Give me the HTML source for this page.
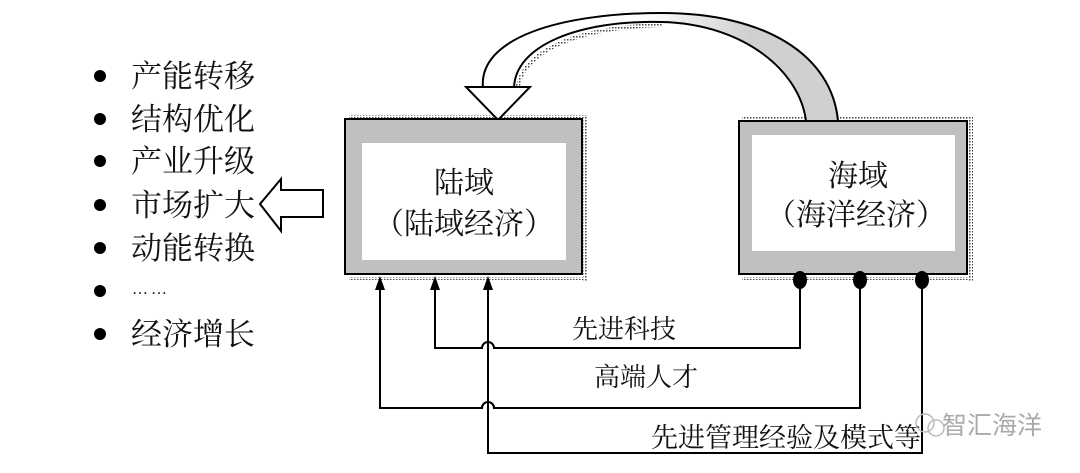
<!DOCTYPE html>
<html><head><meta charset="utf-8"><style>
html,body{margin:0;padding:0;background:#fff;}
svg{display:block;}
text{font-family:"Liberation Serif","Noto Serif CJK SC","Noto Sans CJK SC",serif;fill:#111;}
</style></head><body>
<svg width="1080" height="473" viewBox="0 0 1080 473" xmlns="http://www.w3.org/2000/svg">
<defs>
<pattern id="dots" width="3" height="3" patternUnits="userSpaceOnUse"><rect width="1.5" height="1.5" fill="#444"/></pattern>
<linearGradient id="g" x1="0" x2="1" y1="0" y2="0"><stop offset="0.45" stop-color="#fff"/><stop offset="0.75" stop-color="#d0d0d0"/></linearGradient>
</defs>
<g font-size="31">
<circle cx="100" cy="76" r="6" fill="#000"/><text x="131" y="87">产能转移</text>
<circle cx="100" cy="119" r="6" fill="#000"/><text x="131" y="130">结构优化</text>
<circle cx="100" cy="161" r="6" fill="#000"/><text x="131" y="172">产业升级</text>
<circle cx="100" cy="205" r="6" fill="#000"/><text x="131" y="216">市场扩大</text>
<circle cx="100" cy="248" r="6" fill="#000"/><text x="131" y="259">动能转换</text>
<circle cx="100" cy="291" r="6" fill="#000"/><text x="132" y="294" font-size="16" letter-spacing="3">……</text>
<circle cx="100" cy="334" r="6" fill="#000"/><text x="131" y="345">经济增长</text>
</g>
<polygon points="260,204 281,179 281,190 323,190 323,217 281,217 281,231" fill="#fff" stroke="#000" stroke-width="2"/>
<rect x="349" y="115" width="236" height="3" fill="url(#dots)"/>
<rect x="583" y="115" width="5" height="166" fill="url(#dots)"/>
<rect x="349" y="277" width="238" height="3" fill="url(#dots)"/>
<rect x="742" y="117" width="228" height="3" fill="url(#dots)"/>
<rect x="968" y="117" width="5" height="164" fill="url(#dots)"/>
<rect x="742" y="277" width="230" height="3" fill="url(#dots)"/>
<path d="M483,88 C478,38 560,13 662,13 C765,13 832,55 838,121 L806,121 C800,72 745,24 662,22 C580,20 515,45 514,88 Z" fill="url(#g)" stroke="#000" stroke-width="2"/>
<path d="M517,92 C520,52 575,27 662,25" fill="none" stroke="url(#dots)" stroke-width="4"/>
<polygon points="466,87 530,87 498,120" fill="#fff" stroke="#000" stroke-width="2"/>
<rect x="345" y="119" width="237" height="155" fill="#c0c0c0" stroke="#000" stroke-width="2"/>
<rect x="362" y="143" width="204" height="117" fill="#fff"/>
<text x="464" y="193" font-size="30" text-anchor="middle">陆域</text>
<text x="464" y="234" font-size="30" text-anchor="middle">（陆域经济）</text>
<rect x="739" y="121" width="228" height="153" fill="#c0c0c0" stroke="#000" stroke-width="2"/>
<rect x="752" y="135" width="203" height="116" fill="#fff"/>
<text x="858" y="186" font-size="30" text-anchor="middle">海域</text>
<text x="856" y="225" font-size="30" text-anchor="middle">（海洋经济）</text>
<g fill="none" stroke="#000" stroke-width="2">
<path d="M800,278 V348 H494 a6,6 0 0 0 -12,0 H435 V285"/>
<path d="M860,278 V408 H494 a6,6 0 0 0 -12,0 H380 V285"/>
<path d="M922,278 V453 H488 V285"/>
</g>
<g fill="#000">
<polygon points="380,276 375,290 385,290"/>
<polygon points="435,276 430,290 440,290"/>
<polygon points="488,276 483,290 493,290"/>
<ellipse cx="800" cy="280" rx="7" ry="9"/>
<ellipse cx="860" cy="280" rx="7" ry="9"/>
<ellipse cx="922" cy="280" rx="7" ry="9"/>
</g>
<text x="572" y="338" font-size="26">先进科技</text>
<text x="594" y="386" font-size="26">高端人才</text>
<text x="651" y="447" font-size="27">先进管理经验及模式等</text>
<g fill="none" stroke="#bbb" stroke-width="1.5">
<circle cx="925" cy="423" r="9"/><circle cx="936" cy="428" r="8"/>
</g>
<text x="942" y="434" font-size="25" style="fill:#aaa;font-family:'Noto Sans CJK SC',sans-serif">智汇海洋</text>
</svg>
</body></html>
